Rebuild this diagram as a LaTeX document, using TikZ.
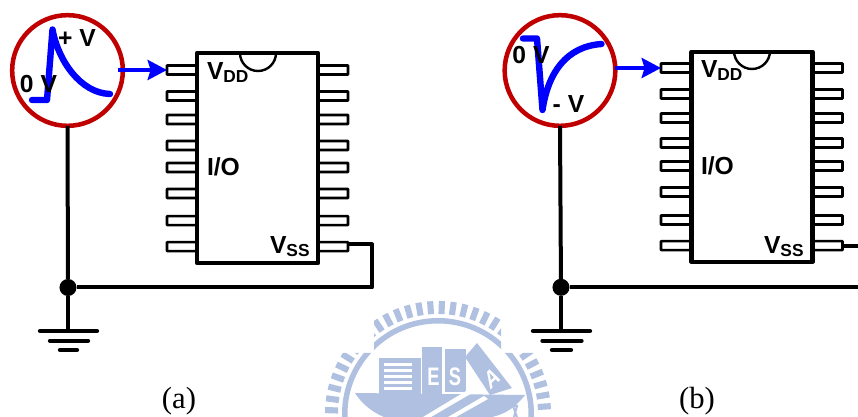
\documentclass[tikz,border=0pt]{standalone}
\usepackage{fontspec}
\setmainfont{Liberation Sans}
\newfontfamily\capfont{Liberation Serif}
\usetikzlibrary{arrows.meta}
\definecolor{pulsered}{RGB}{192,0,0}
\definecolor{pulseblue}{RGB}{0,0,255}
\definecolor{sealblue}{RGB}{176,192,224}
\newcommand{\lblsize}{\fontsize{18.5}{20}\selectfont\bfseries}
\newcommand{\lowsize}[1]{\raisebox{-2.2pt}{\fontsize{13}{14}\selectfont #1}}
\tikzset{
    pin/.style={draw,line width=1.9pt,rectangle,fill=white,inner sep=0,outer sep=0,minimum width=22.5pt,minimum height=6.75pt,rounded corners=0.4pt},
    chip/.style={draw,line width=3.2pt,rectangle,inner sep=0,outer sep=0,minimum width=90.75pt,minimum height=157.5pt,line join=round},
    source/.style={draw=pulsered,line width=3.4pt,circle,fill=white,inner sep=0,outer sep=0,minimum size=83pt},
    junction/.style={circle,fill=black,inner sep=0,outer sep=0,minimum size=12.8pt},
    lbl/.style={inner sep=0,outer sep=0,font=\lblsize},
    caplbl/.style={inner sep=0,outer sep=0,font=\capfont\fontsize{23}{25}\selectfont},
    wire/.style={line width=3pt,line join=round},
    gndbar/.style={line width=3.2pt,line cap=round},
    pulse/.style={pulseblue,line width=4.8pt,line cap=round,line join=round},
    sigarrow/.style={pulseblue,line width=2.8pt,-{Stealth[length=14.5pt,width=15pt,inset=2.2pt]}},
    sealtext/.style={white,inner sep=0,outer sep=0,xscale=0.72,font=\fontsize{19}{20}\selectfont\bfseries}
}
\begin{document}
\begin{tikzpicture}[x=0.75pt,y=-0.75pt]
    \useasboundingbox (0,0) rectangle (858,417);

    % seal behind the panels
    \begin{scope}
        \clip (374,290)--(501,290)--(501,353)--(560,353)--(560,417)--(320,417)--(320,353)--(374,353)--cycle;
        \foreach \a in {182,188,...,360} \draw[sealblue,line width=4.6pt] (438,414) ++(\a:100) -- ++(\a:13);
        \fill[sealblue,even odd rule] (438,414) circle (96) (438,414) circle (90.5);
    \end{scope}
    \fill[sealblue] (355,393)--(525,395) .. controls (515,408) and (505,414) .. (492,417)--(384,417) .. controls (372,412) and (362,404) .. (355,393)--cycle;
    \fill[sealblue] (379,358) rectangle (421,394);
    \foreach \y in {363,369,375,381,387} \fill[white] (384,\y) rectangle (412,\y+3);
    \fill[sealblue] (422,347) rectangle (442,395);
    \fill[sealblue] (445,349) rectangle (466,392);
    \fill[sealblue] (477,343)--(512,388)--(490,395)--(465,357)--cycle;
    \fill[white] (423,417)--(476,385)--(479,389)--(431,417)--cycle;
    \fill[white] (448,417)--(484,396)--(488,399)--(456,417)--cycle;
    \draw[sealblue,line width=1.5pt] (514,417) -- (517,406) -- (513,406) -- (517,417);
    \node[sealtext] (sealE) at (433.5,377) {E};
    \node[sealtext] (sealS) at (455,377) {S};
    \node[sealtext,rotate=35] (sealA) at (492,378) {A};

    % panel a
    \foreach \i/\y in {1/70,2/96,3/119.5,4/145.5,5/167.5,6/193.5,7/220.7,8/246.7} {
        \node[pin] (pinLA\i) at (182,\y) {};
        \node[pin] (pinRA\i) at (333,\y) {};
    }
    \node[chip] (chipA) at (257.5,158) {};
    \draw[line width=1.8pt] (240,53) arc (180:0:18);
    \node[source] (srcA) at (67.5,70.5) {};
    \node[junction] (dotA) at (68,287.5) {};
    \coordinate (cornerA) at (372,287.5);
    \coordinate (gndA) at (68,331);

    \draw[wire] (srcA.south) -- (dotA);
    \draw[wire] (dotA) -- (gndA);
    \draw[wire] ([yshift=-1.6pt]pinRA8.north east) -| (cornerA) -- (dotA);
    \draw[gndbar] (40,331) -- (97,331);
    \draw[gndbar] (50,340.7) -- (88,340.7);
    \draw[gndbar] (60,350) -- (77,350);

    \draw[pulse] (32,100) -- (47,100) -- (52.5,29.5) .. controls (58,60) and (80,93) .. (110,94);
    \draw[sigarrow] ([xshift=-3.4pt]srcA.east |- pinLA1.west) -- (pinLA1.west);

    \node[lbl,anchor=center] (plusA) at (77,38) {+ V};
    \node[lbl,anchor=center] (zeroA) at (38.5,84.5) {0 V};
    \node[lbl,anchor=base west] (vddA) at (207,80) {V\lowsize{DD}};
    \node[lbl,anchor=base west] (ioA) at (207,176) {I/O};
    \node[lbl,anchor=base west] (vssA) at (270,254) {V\lowsize{SS}};
    \node[caplbl] (capA) at (179,401) {(a)};

    % panel b
    \foreach \i/\y in {1/68,2/94,3/118,4/143,5/166,6/192,7/220,8/245.7} {
        \node[pin] (pinLB\i) at (676,\y) {};
        \node[pin] (pinRB\i) at (827.5,\y) {};
    }
    \node[chip] (chipB) at (752,157) {};
    \draw[line width=1.8pt] (734,51) arc (180:0:18);
    \node[source] (srcB) at (560,70.5) {};
    \node[junction] (dotB) at (561,287.3) {};
    \coordinate (endB) at (858,287.3);
    \coordinate (stubB) at (858,245.7);
    \coordinate (gndB) at (561,331);

    \draw[wire] (srcB.south) -- (dotB);
    \draw[wire] (dotB) -- (gndB);
    \draw[wire] (dotB) -- (endB);
    \draw[wire] (pinRB8.east) -- (stubB);
    \draw[gndbar] (533,331) -- (590,331);
    \draw[gndbar] (542.5,340.7) -- (581.5,340.7);
    \draw[gndbar] (552,350) -- (571,350);

    \draw[pulse] (523,38.5) -- (537,38.5) -- (542.5,110) .. controls (548,73) and (566,46.5) .. (601.5,44);
    \draw[sigarrow] (srcB.east |- pinLB1.west) -- (pinLB1.west);

    \node[lbl,anchor=center] (zeroB) at (531,55) {0 V};
    \node[lbl,anchor=center] (minusB) at (568.5,104.5) {- V};
    \node[lbl,anchor=base west] (vddB) at (701,78) {V\lowsize{DD}};
    \node[lbl,anchor=base west] (ioB) at (701,174.5) {I/O};
    \node[lbl,anchor=base west] (vssB) at (764,254) {V\lowsize{SS}};
    \node[caplbl] (capB) at (697,401) {(b)};
\end{tikzpicture}
\end{document}
